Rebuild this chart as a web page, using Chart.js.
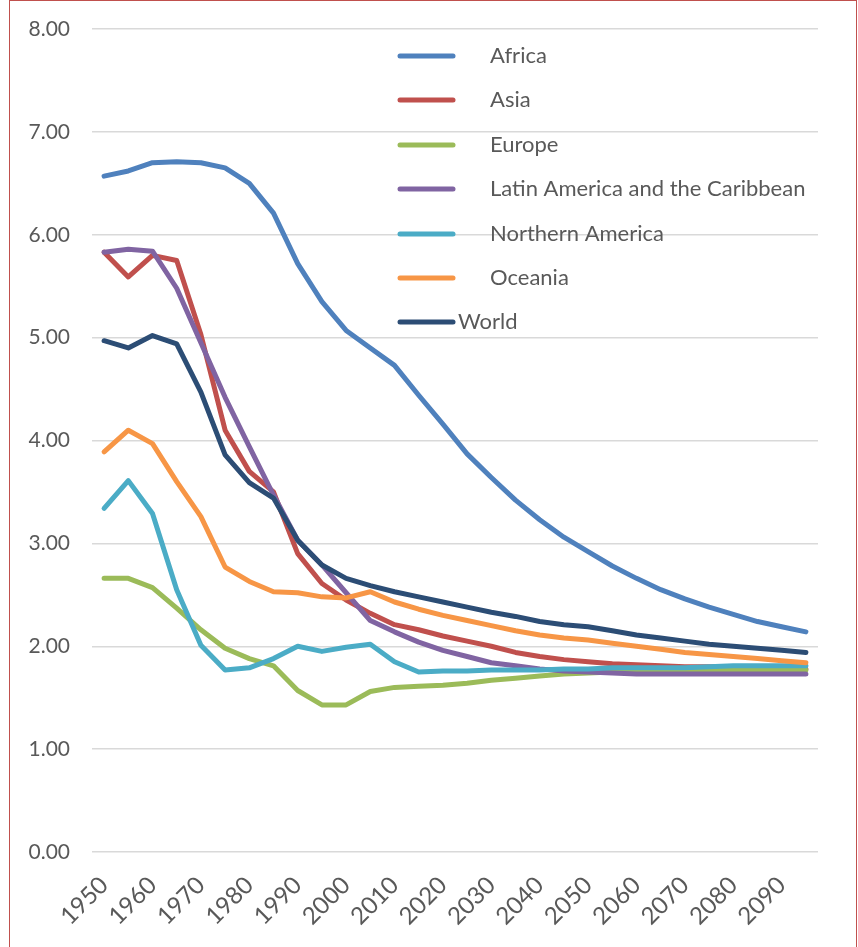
<!DOCTYPE html>
<html>
<head>
<meta charset="utf-8">
<script src="https://cdn.jsdelivr.net/npm/chart.js@4.4.1/dist/chart.umd.min.js"></script>
<style>
  html, body { margin: 0; padding: 0; background: #ffffff; overflow: hidden; }
  #wrap { position: relative; width: 858px; height: 947px; }
  #frame { position: absolute; left: 9px; top: 0; width: 848px; height: 1000px; border: 1.5px solid #C0504D; box-sizing: border-box; pointer-events: none; }
  canvas { position: absolute; left: 0; top: 0; }
</style>
</head>
<body>
<div id="wrap">
  <canvas id="c" width="858" height="947"></canvas>
  <div id="frame"></div>
</div>
<script>
const years = [1950,1955,1960,1965,1970,1975,1980,1985,1990,1995,2000,2005,2010,2015,2020,2025,2030,2035,2040,2045,2050,2055,2060,2065,2070,2075,2080,2085,2090,2095];
const seriesNames = ["Africa","Asia","Europe","Latin America and the Caribbean","Northern America","Oceania","World"];
const africa = [6.57,6.62,6.70,6.71,6.70,6.65,6.50,6.21,5.72,5.35,5.07,4.90,4.73,4.44,4.16,3.87,3.64,3.42,3.23,3.06,2.92,2.78,2.66,2.55,2.46,2.38,2.31,2.24,2.19,2.14];
const asia = [5.83,5.59,5.80,5.75,5.03,4.10,3.70,3.50,2.90,2.61,2.45,2.32,2.21,2.16,2.10,2.05,2.00,1.94,1.90,1.87,1.85,1.83,1.82,1.81,1.80,1.80,1.79,1.79,1.78,1.78];
const europe = [2.66,2.66,2.57,2.37,2.16,1.98,1.88,1.81,1.57,1.43,1.43,1.56,1.60,1.61,1.62,1.64,1.67,1.69,1.71,1.73,1.74,1.75,1.75,1.76,1.76,1.77,1.77,1.77,1.77,1.77];
const latinAmerica = [5.83,5.86,5.84,5.48,4.95,4.42,3.94,3.47,3.03,2.79,2.52,2.25,2.14,2.04,1.96,1.90,1.84,1.81,1.78,1.76,1.75,1.74,1.73,1.73,1.73,1.73,1.73,1.73,1.73,1.73];
const northernAmerica = [3.34,3.61,3.29,2.55,2.01,1.77,1.79,1.88,2.00,1.95,1.99,2.02,1.85,1.75,1.76,1.76,1.77,1.77,1.77,1.78,1.78,1.79,1.79,1.79,1.79,1.80,1.81,1.81,1.81,1.81];
const oceania = [3.89,4.10,3.97,3.60,3.26,2.77,2.63,2.53,2.52,2.48,2.47,2.53,2.43,2.36,2.30,2.25,2.20,2.15,2.11,2.08,2.06,2.03,2.00,1.97,1.94,1.92,1.90,1.88,1.86,1.84];
const world = [4.97,4.90,5.02,4.94,4.47,3.86,3.59,3.44,3.03,2.79,2.66,2.59,2.53,2.48,2.43,2.38,2.33,2.29,2.24,2.21,2.19,2.15,2.11,2.08,2.05,2.02,2.00,1.98,1.96,1.94];
const yTicks = [0,1,2,3,4,5,6,7,8];

const colors = ["#4F81BD","#C0504D","#9BBB59","#8064A2","#4BACC6","#F79646","#2C4D75"];
const values = [africa, asia, europe, latinAmerica, northernAmerica, oceania, world];

const FONT = "Lato, 'Open Sans', sans-serif";
const TEXT = "#595959";

const legendPlugin = {
  id: 'floatLegend',
  afterDraw(chart) {
    const ctx = chart.ctx;
    ctx.save();
    const rowY = [56,100,145,189,234,278,322];
    chart.data.datasets.forEach((ds, i) => {
      const y = rowY[i];
      ctx.strokeStyle = ds.borderColor;
      ctx.lineWidth = 5;
      ctx.lineCap = 'round';
      ctx.beginPath();
      ctx.moveTo(400, y);
      ctx.lineTo(453, y);
      ctx.stroke();
      ctx.fillStyle = TEXT;
      ctx.font = "22px " + FONT;
      ctx.textBaseline = 'middle';
      ctx.textAlign = 'left';
      const tx = (i === chart.data.datasets.length - 1) ? 458 : 490;
      ctx.fillText(ds.label, tx, y);
    });
    ctx.restore();
  }
};

new Chart(document.getElementById('c'), {
  type: 'line',
  data: {
    labels: years.map(String),
    datasets: seriesNames.map((name, i) => ({
      label: name,
      data: values[i],
      borderColor: colors[i],
      backgroundColor: colors[i],
      borderWidth: 5,
      pointRadius: 0,
      tension: 0,
      borderCapStyle: 'round',
      borderJoinStyle: 'round',
      order: seriesNames.length - 1 - i
    }))
  },
  options: {
    responsive: false,
    animation: false,
    layout: { padding: { left: 0, top: 29, right: 40, bottom: 0 } },
    plugins: { legend: { display: false }, tooltip: { enabled: false } },
    scales: {
      x: {
        type: 'category',
        offset: true,
        grid: { display: false, drawTicks: false },
        border: { display: false },
        ticks: {
          autoSkip: false,
          maxRotation: 45,
          minRotation: 45,
          padding: 19,
          color: TEXT,
          font: { family: FONT, size: 24 },
          callback: function(v, idx) { return idx % 2 === 0 ? this.getLabelForValue(v) : ''; }
        },
        afterFit(scale) {
          scale.height = 947 - 852;
          scale.paddingLeft = 0; scale.paddingRight = 0; scale.paddingTop = 0; scale.paddingBottom = 0;
        }
      },
      y: {
        min: 0, max: 8,
        afterBuildTicks(scale) { scale.ticks = yTicks.map(v => ({ value: v })); },
        grid: { color: '#D9D9D9', lineWidth: 1.5, drawTicks: false },
        border: { display: false },
        ticks: {
          padding: 22,
          color: TEXT,
          font: { family: FONT, size: 21 },
          callback: v => Number(v).toFixed(2)
        },
        afterFit(scale) {
          scale.width = 92;
          scale.paddingLeft = 0; scale.paddingRight = 0; scale.paddingTop = 0; scale.paddingBottom = 0;
        }
      }
    }
  },
  plugins: [legendPlugin]
});
</script>
</body>
</html>
